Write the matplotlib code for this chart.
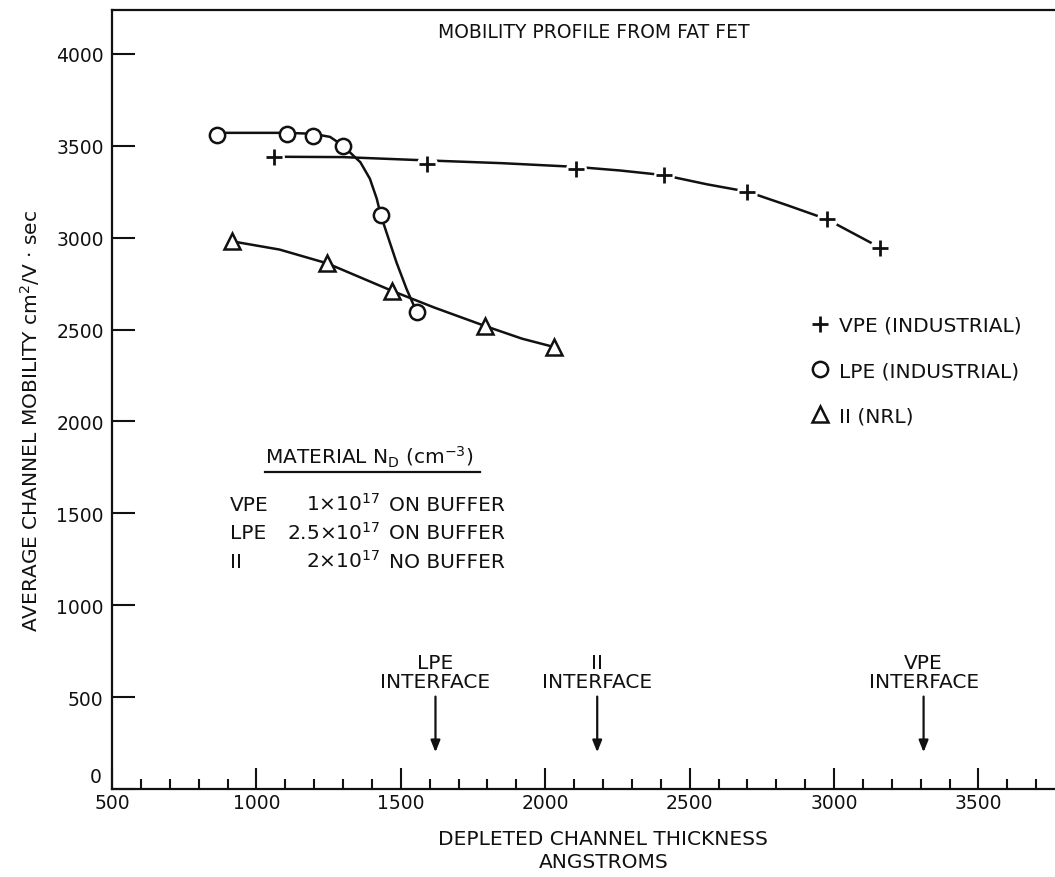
import matplotlib.pyplot as plt
import matplotlib.transforms as mtransforms
from matplotlib.lines import Line2D
from matplotlib.ticker import MultipleLocator, FuncFormatter

plt.rcParams["font.family"] = ["DejaVu Sans"]
plt.rcParams["mathtext.fontset"] = "dejavusans"

# measured points (depleted thickness in angstroms, mobility cm^2/V.s)
vpe_x = [1060, 1590, 2105, 2410, 2700, 2975, 3160]
vpe_y = [3440, 3400, 3375, 3340, 3250, 3100, 2945]
lpe_x = [865, 1105, 1195, 1300, 1430, 1555]
lpe_y = [3560, 3565, 3555, 3500, 3125, 2595]
ii_x = [915, 1245, 1470, 1790, 2030]
ii_y = [2980, 2860, 2710, 2520, 2405]

# hand drawn fit curves
vpe_curve_x = [1060, 1300, 1590, 1850, 2105, 2260, 2410, 2560, 2700, 2840, 2975, 3160]
vpe_curve_y = [3440, 3438, 3420, 3405, 3385, 3365, 3340, 3290, 3250, 3175, 3100, 2945]
lpe_curve_x = [865, 1105, 1195, 1255, 1300, 1335, 1360, 1393, 1417, 1430, 1450, 1485, 1520, 1555]
lpe_curve_y = [3570, 3570, 3565, 3548, 3500, 3447, 3410, 3320, 3210, 3125, 3030, 2865, 2720, 2595]
ii_curve_x = [915, 1080, 1245, 1470, 1615, 1790, 1920, 2030]
ii_curve_y = [2980, 2935, 2860, 2710, 2620, 2520, 2450, 2405]

legend_labels = ["VPE (INDUSTRIAL)", "LPE (INDUSTRIAL)", "II (NRL)"]

interface_x = [1620, 2180, 3310]
interface_labels = ["LPE\nINTERFACE", "II\nINTERFACE", "VPE\nINTERFACE"]

materials = ["VPE", "LPE", "II"]
nd_values = [r"1×10$^{17}$", r"2.5×10$^{17}$", r"2×10$^{17}$"]
buffers = ["ON BUFFER", "ON BUFFER", "NO BUFFER"]

ink = "#111111"

fig = plt.figure(figsize=(10.55, 8.78), dpi=100)
ax = fig.add_axes([112 / 1055, 88 / 878, 943 / 1055, 779.3 / 878])

# VPE: line broken around the crosses
ax.plot(vpe_curve_x, vpe_curve_y, color=ink, lw=1.8, zorder=2)
ax.plot(vpe_x, vpe_y, ls="none", marker="o", ms=15, mfc="white", mec="none", zorder=3)
ax.plot(vpe_x, vpe_y, ls="none", marker="+", ms=11, mew=2, color=ink, zorder=4)

ax.plot(lpe_curve_x, lpe_curve_y, color=ink, lw=1.8, zorder=2)
ax.plot(lpe_x, lpe_y, ls="none", marker="o", ms=11, mfc="white", mec=ink, mew=1.8, zorder=4)

ax.plot(ii_curve_x, ii_curve_y, color=ink, lw=1.8, zorder=2)
ax.plot(ii_x, ii_y, ls="none", marker="^", ms=12, mfc="white", mec=ink, mew=1.8, zorder=4)

ax.set_xlim(500, 3765)
ax.set_ylim(0, 4240)

ax.xaxis.set_major_locator(MultipleLocator(500))
ax.xaxis.set_minor_locator(MultipleLocator(100))
ax.yaxis.set_major_locator(MultipleLocator(500))
# zero is written by hand below so it sits above the "500" of the x axis
ax.yaxis.set_major_formatter(FuncFormatter(lambda v, pos: "" if v == 0 else f"{v:.0f}"))
ax.tick_params(axis="x", which="major", direction="in", length=15, width=1.5,
               labelsize=13.5, pad=3, top=False, colors=ink)
ax.tick_params(axis="x", which="minor", direction="in", length=7, width=1.5, top=False, colors=ink)
ax.tick_params(axis="y", which="major", direction="in", length=16.5, width=1.5,
               labelsize=13.5, pad=6, right=False, colors=ink)
yaxis_trans = mtransforms.blended_transform_factory(ax.transAxes, ax.transData)
ax.text(-0.011, 15, "0", transform=yaxis_trans, ha="right", va="bottom",
        fontsize=13.5, color=ink)

for side in ["top", "left", "bottom"]:
    ax.spines[side].set_linewidth(1.6)
    ax.spines[side].set_color(ink)
ax.spines["right"].set_visible(False)

ax.set_xlabel("DEPLETED CHANNEL THICKNESS\nANGSTROMS", fontsize=14.5, linespacing=1.3, color=ink)
ax.xaxis.set_label_coords(0.521, -0.0513)
ax.set_ylabel(r"AVERAGE CHANNEL MOBILITY cm$^2$/V · sec", fontsize=14.5, color=ink)
ax.yaxis.set_label_coords(-0.0742, 0.4735)

ax.text(0.511, 0.9646, "MOBILITY PROFILE FROM FAT FET", transform=ax.transAxes,
        ha="center", va="baseline", fontsize=13.5, color=ink)

handles = [
    Line2D([], [], ls="none", marker="+", ms=12, mew=2, color=ink),
    Line2D([], [], ls="none", marker="o", ms=11, mfc="white", mec=ink, mew=1.8),
    Line2D([], [], ls="none", marker="^", ms=12, mfc="white", mec=ink, mew=1.8),
]
ax.legend(handles, legend_labels, loc="center left", bbox_to_anchor=(0.740, 0.537),
          frameon=False, fontsize=14.5, handlelength=1.0, handletextpad=0.45,
          labelspacing=1.3, borderpad=0, borderaxespad=0, labelcolor=ink)

# material table
ax.text(0.162, 0.4183, r"MATERIAL N$_\mathregular{D}$ (cm$^{-3}$)", transform=ax.transAxes,
        ha="left", va="baseline", fontsize=14.5, color=ink)
ax.plot([0.162, 0.390], [0.4064, 0.4064], transform=ax.transAxes, color=ink, lw=1.6)
for i in range(len(materials)):
    y = 0.358 - i * 0.0364
    ax.text(0.1251, y, materials[i], transform=ax.transAxes, ha="left", va="baseline",
            fontsize=14.5, color=ink)
    ax.text(0.2842, y, nd_values[i], transform=ax.transAxes, ha="right", va="baseline",
            fontsize=14.5, color=ink)
    ax.text(0.2937, y, buffers[i], transform=ax.transAxes, ha="left", va="baseline",
            fontsize=14.5, color=ink)

for x, label in zip(interface_x, interface_labels):
    ax.annotate(label, xy=(x, 200), xytext=(x, 533), ha="center", va="bottom",
                fontsize=14.5, linespacing=1.0, color=ink,
                arrowprops=dict(arrowstyle="-|>,head_length=0.5,head_width=0.2",
                                color=ink, lw=1.6, shrinkA=2, shrinkB=0, mutation_scale=14))

fig.savefig("out.png", dpi=100)
